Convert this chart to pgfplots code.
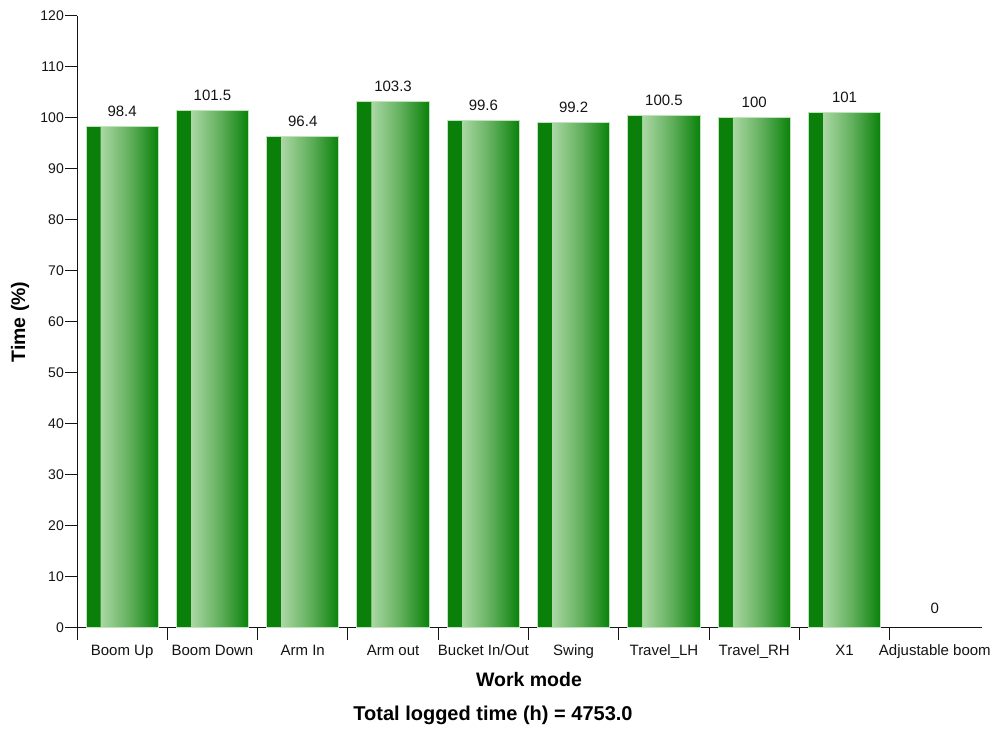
\documentclass[border=0pt]{standalone}
\usepackage{pgfplots}
\pgfplotsset{compat=1.18}
\usepackage{fontspec}
\setmainfont{Liberation Sans}
\definecolor{dg}{RGB}{10,128,10}
\definecolor{dg2}{RGB}{14,132,14}
\definecolor{lg}{RGB}{172,216,165}
\definecolor{mg}{RGB}{98,176,93}
\definecolor{bord}{RGB}{190,228,185}
\definecolor{axc}{RGB}{20,20,20}
\pgfdeclarehorizontalshading{barshade}{100bp}{color(0bp)=(dg); color(25.5bp)=(dg); color(34.6bp)=(dg); color(34.8bp)=(lg); color(55bp)=(mg); color(74bp)=(dg2); color(100bp)=(dg2)}
\pgfplotsset{mybar/.style={ybar, bar width=0.8, shading=barshade, draw=bord, line width=1bp}}
\begin{document}
\begin{tikzpicture}
\useasboundingbox (0,0) rectangle (998bp,731bp);
\begin{axis}[
  at={(77bp,103bp)}, anchor=south west,
  scale only axis, width=903bp, height=612bp,
  xmin=0, xmax=10, ymin=0, ymax=120,
  axis x line*=bottom, axis y line*=left,
  axis line style={axc, line width=1bp, -},
  x axis line style={shorten <=-12bp, shorten >=-2bp},
  tick align=outside, major tick length=12bp,
  tick style={axc, line width=1bp},
  ytick={0,10,...,120},
  xtick={0,1,...,9},
  xticklabels={},
  extra x ticks={0.5,1.5,...,9.5},
  extra x tick labels={Boom Up,Boom Down,Arm In,Arm out,Bucket In/Out,Swing,Travel\_LH,Travel\_RH,X1,Adjustable boom},
  extra x tick style={major tick length=0pt, xticklabel style={anchor=base, yshift=-27.7bp}},
  /pgf/number format/assume math mode=true,
  yticklabel style={font=\fontsize{14bp}{16bp}\selectfont, text=axc, inner sep=1bp},
  xticklabel style={font=\fontsize{15bp}{17bp}\selectfont, text=axc},
  nodes near coords,
  every node near coord/.append style={font=\fontsize{15bp}{17bp}\selectfont, text=axc, anchor=base, yshift=10bp},
  clip=false,
]
\addplot[mybar] coordinates {(0.5,98.4)};
\addplot[mybar] coordinates {(1.5,101.5)};
\addplot[mybar] coordinates {(2.5,96.4)};
\addplot[mybar] coordinates {(3.5,103.3)};
\addplot[mybar] coordinates {(4.5,99.6)};
\addplot[mybar] coordinates {(5.5,99.2)};
\addplot[mybar] coordinates {(6.5,100.5)};
\addplot[mybar] coordinates {(7.5,100)};
\addplot[mybar] coordinates {(8.5,101)};
\addplot[only marks, mark=none, every node near coord/.append style={yshift=4bp}] coordinates {(9.5,0)};
\end{axis}
\node[anchor=base, font=\bfseries\fontsize{19.5bp}{22bp}\selectfont, text=black] at (529bp,44bp) {Work mode};
\node[anchor=base, font=\bfseries\fontsize{20bp}{22bp}\selectfont, text=black] at (493bp,11bp) {Total logged time (h) = 4753.0};
\node[rotate=90, anchor=base, font=\bfseries\fontsize{19.5bp}{22bp}\selectfont, text=black] at (25bp,409bp) {Time (\%)};
\end{tikzpicture}
\end{document}
